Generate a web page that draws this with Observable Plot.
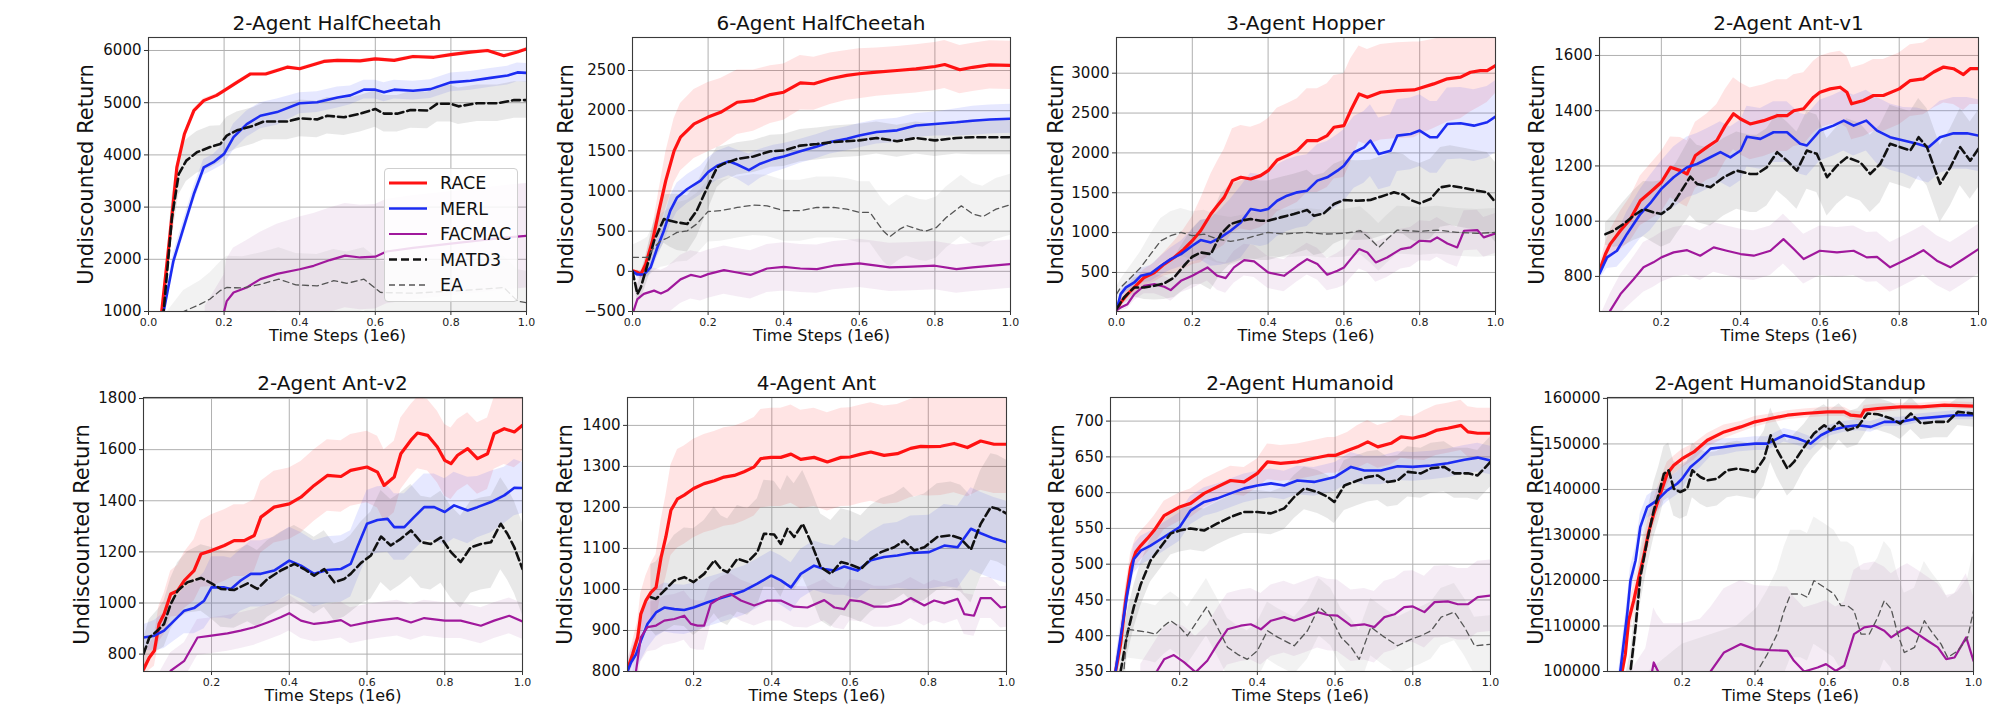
<!DOCTYPE html>
<html><head><meta charset="utf-8">
<script src="https://cdn.jsdelivr.net/npm/d3@7"></script>
<script src="https://cdn.jsdelivr.net/npm/@observablehq/plot@0.6"></script>
<style>
body{margin:0;background:#fff;font-family:"DejaVu Sans",sans-serif;}
#root{position:relative;width:2012px;height:709px;overflow:hidden;background:#fff;}
.panel{position:absolute;}
.title{position:absolute;font-size:20px;transform:translate(-50%,-50%);white-space:nowrap;color:#111;font-family:"DejaVu Sans",sans-serif;}
#legend{position:absolute;box-sizing:border-box;border:1px solid #cfcfcf;border-radius:4px;background:rgba(255,255,255,0.85);}
</style></head><body><div id="root"></div>
<script>
// ---------- data: [time steps (1e6), mean return, half-width of shaded band] ----------
const seriesNames = ["RACE", "MERL", "FACMAC", "MATD3", "EA"];

const hc2_RACE = [[0,0,20],[0.035,1000,30],[0.057,2480,60],[0.075,3760,60],[0.095,4400,50],[0.12,4850,40],[0.146,5040,40],[0.18,5140,30],[0.2,5230,30],[0.234,5390,30],[0.27,5550,30],[0.31,5550,30],[0.367,5680,30],[0.4,5650,30],[0.464,5790,30],[0.5,5810,30],[0.56,5800,30],[0.6,5840,30],[0.65,5810,30],[0.7,5885,30],[0.755,5870,30],[0.8,5920,30],[0.852,5970,30],[0.897,6000,30],[0.94,5900,30],[0.976,5970,30],[1.0,6030,30]];
const hc2_MERL = [[0,0,20],[0.04,1000,100],[0.066,1970,150],[0.093,2610,150],[0.12,3250,150],[0.146,3760,150],[0.172,3860,150],[0.2,4020,200],[0.225,4340,250],[0.26,4590,250],[0.296,4750,250],[0.34,4820,250],[0.4,4990,200],[0.446,5010,200],[0.5,5100,200],[0.534,5140,180],[0.57,5250,180],[0.6,5250,180],[0.623,5200,180],[0.65,5250,180],[0.7,5230,180],[0.746,5260,180],[0.8,5390,180],[0.852,5420,180],[0.905,5475,180],[0.95,5520,180],[0.976,5580,180],[1.0,5570,180]];
const hc2_FACMAC = [[0.15,600,500],[0.2,1000,700],[0.207,1200,800],[0.225,1365,850],[0.26,1460,900],[0.296,1620,900],[0.34,1720,950],[0.4,1810,1000],[0.437,1875,1000],[0.48,1985,1000],[0.52,2070,1000],[0.56,2035,1000],[0.6,2050,1000],[0.63,2150,1000],[0.7,2220,1000],[0.8,2300,1000],[0.9,2380,1000],[0.95,2420,1000],[1.0,2450,1000]];
const hc2_MATD3 = [[0,0,50],[0.04,1000,200],[0.062,2800,400],[0.08,3630,400],[0.1,3890,400],[0.128,4050,400],[0.163,4150,400],[0.19,4210,350],[0.207,4370,350],[0.234,4470,350],[0.278,4560,350],[0.305,4640,350],[0.367,4640,350],[0.4,4700,350],[0.446,4680,350],[0.473,4750,350],[0.517,4720,350],[0.56,4790,350],[0.6,4880,350],[0.623,4790,350],[0.658,4790,350],[0.693,4860,350],[0.738,4850,350],[0.764,4980,350],[0.8,4980,350],[0.82,4930,350],[0.87,4990,350],[0.923,4990,350],[0.967,5050,350],[1.0,5050,350]];
const hc2_EA = [[0.05,700,300],[0.093,1000,400],[0.137,1140,450],[0.163,1240,500],[0.19,1400,550],[0.207,1460,600],[0.25,1450,600],[0.296,1520,600],[0.345,1620,600],[0.39,1510,600],[0.446,1490,600],[0.49,1590,600],[0.525,1540,600],[0.57,1620,600],[0.614,1365,600],[0.7,1350,600],[0.826,1400,600],[0.94,1460,600],[0.976,1200,600],[1.0,1170,600]];

const hc6_RACE = [[0,7,20],[0.013,-13,30],[0.022,-40,40],[0.035,90,80],[0.053,380,150],[0.07,755,250],[0.088,1130,350],[0.11,1500,400],[0.127,1670,420],[0.163,1835,430],[0.2,1920,430],[0.233,1980,420],[0.277,2105,400],[0.32,2125,380],[0.365,2200,360],[0.4,2230,350],[0.444,2347,340],[0.48,2335,330],[0.523,2397,320],[0.567,2440,310],[0.6,2460,310],[0.646,2480,300],[0.7,2500,300],[0.75,2520,300],[0.8,2550,300],[0.826,2575,300],[0.866,2510,300],[0.9,2540,300],[0.945,2570,300],[1.0,2565,300]];
const hc6_MERL = [[0,0,20],[0.013,-40,40],[0.03,-40,60],[0.048,50,80],[0.066,300,120],[0.083,505,150],[0.1,755,180],[0.118,920,180],[0.145,1025,180],[0.18,1130,180],[0.2,1235,180],[0.224,1315,180],[0.255,1370,180],[0.277,1330,180],[0.308,1260,200],[0.338,1340,180],[0.373,1400,170],[0.4,1430,160],[0.444,1495,150],[0.488,1555,150],[0.523,1610,150],[0.567,1650,150],[0.6,1690,150],[0.646,1735,150],[0.7,1755,150],[0.75,1815,150],[0.8,1835,150],[0.857,1855,170],[0.9,1875,180],[0.945,1890,180],[1.0,1900,180]];
const hc6_FACMAC = [[0.003,-490,200],[0.013,-345,250],[0.03,-280,280],[0.057,-240,280],[0.075,-275,290],[0.092,-240,290],[0.127,-100,300],[0.154,-45,300],[0.18,-70,300],[0.2,-35,300],[0.242,15,300],[0.277,-15,300],[0.312,-45,300],[0.356,35,300],[0.4,55,300],[0.444,35,300],[0.488,28,300],[0.532,70,300],[0.6,100,300],[0.646,70,300],[0.68,50,300],[0.725,55,300],[0.8,70,300],[0.857,28,300],[0.9,50,300],[1.0,90,300]];
const hc6_MATD3 = [[0,0,50],[0.013,-283,100],[0.022,-200,150],[0.04,90,200],[0.057,380,250],[0.083,650,300],[0.1,630,330],[0.118,610,350],[0.145,590,350],[0.17,755,330],[0.198,1045,300],[0.224,1295,250],[0.242,1340,220],[0.277,1400,200],[0.32,1430,200],[0.365,1495,200],[0.4,1505,200],[0.444,1565,200],[0.488,1585,200],[0.532,1610,200],[0.6,1630,200],[0.646,1660,200],[0.7,1620,200],[0.75,1660,200],[0.8,1630,200],[0.857,1660,200],[0.9,1670,220],[1.0,1670,220]];
const hc6_EA = [[0,175,150],[0.022,175,200],[0.04,175,250],[0.057,300,300],[0.075,380,330],[0.092,415,350],[0.118,485,370],[0.145,505,380],[0.17,590,380],[0.2,745,380],[0.233,755,380],[0.277,795,380],[0.32,825,380],[0.356,815,380],[0.4,755,380],[0.444,755,380],[0.488,795,380],[0.532,795,380],[0.567,775,380],[0.6,735,380],[0.628,735,380],[0.663,505,380],[0.68,430,380],[0.707,525,380],[0.725,570,380],[0.76,515,380],[0.778,505,380],[0.804,545,380],[0.83,670,380],[0.87,815,380],[0.9,715,380],[0.927,680,380],[0.962,775,380],[1.0,830,380]];

const hop_RACE = [[0,27,20],[0.011,123,40],[0.029,228,60],[0.047,312,80],[0.073,437,100],[0.1,500,120],[0.126,605,150],[0.152,688,200],[0.178,793,250],[0.2,898,300],[0.222,1023,400],[0.249,1233,500],[0.266,1338,550],[0.284,1442,600],[0.306,1652,650],[0.328,1694,650],[0.354,1673,650],[0.38,1715,650],[0.4,1777,650],[0.424,1911,650],[0.45,1966,650],[0.477,2028,650],[0.503,2154,650],[0.53,2154,650],[0.556,2217,650],[0.574,2322,650],[0.6,2342,650],[0.618,2531,650],[0.64,2740,600],[0.662,2698,600],[0.697,2761,600],[0.741,2782,600],[0.785,2790,600],[0.8,2811,580],[0.837,2866,560],[0.873,2929,540],[0.908,2950,520],[0.934,3012,500],[0.96,3033,450],[0.978,3033,400],[1.0,3096,350]];
const hop_MERL = [[0,27,20],[0.011,228,40],[0.025,312,60],[0.047,374,80],[0.064,458,90],[0.09,487,100],[0.117,584,120],[0.143,667,140],[0.17,730,160],[0.2,835,200],[0.222,906,250],[0.249,877,300],[0.275,940,350],[0.301,1023,400],[0.328,1128,450],[0.354,1296,450],[0.38,1275,450],[0.4,1296,450],[0.424,1400,450],[0.45,1463,450],[0.477,1505,450],[0.503,1526,450],[0.53,1652,450],[0.556,1694,450],[0.583,1777,450],[0.6,1840,450],[0.627,2008,450],[0.653,2070,450],[0.67,2154,450],[0.692,1987,450],[0.723,2028,450],[0.741,2217,450],[0.776,2238,450],[0.8,2280,450],[0.828,2196,450],[0.846,2196,450],[0.873,2363,450],[0.908,2372,450],[0.943,2342,450],[0.978,2384,450],[1.0,2455,450]];
const hop_FACMAC = [[0,27,20],[0.011,60,40],[0.029,102,60],[0.047,228,80],[0.073,333,100],[0.1,353,120],[0.126,320,130],[0.143,278,140],[0.17,395,150],[0.2,458,160],[0.24,563,170],[0.266,458,180],[0.288,429,190],[0.31,563,200],[0.337,655,200],[0.363,638,200],[0.4,500,200],[0.442,458,200],[0.477,584,200],[0.503,667,200],[0.53,605,200],[0.556,471,200],[0.583,521,220],[0.6,563,230],[0.618,667,240],[0.64,793,250],[0.662,751,250],[0.684,626,250],[0.714,688,250],[0.75,793,250],[0.776,814,250],[0.8,898,250],[0.828,889,250],[0.846,940,250],[0.873,864,250],[0.899,814,250],[0.917,1023,250],[0.952,1032,250],[0.969,940,250],[1.0,990,250]];
const hop_MATD3 = [[0,40,30],[0.02,186,80],[0.047,312,120],[0.073,312,150],[0.1,333,180],[0.126,362,200],[0.152,437,250],[0.178,584,300],[0.2,697,350],[0.222,751,400],[0.249,730,450],[0.275,981,500],[0.301,1107,500],[0.328,1149,500],[0.354,1170,500],[0.38,1149,500],[0.4,1149,500],[0.433,1191,500],[0.468,1233,500],[0.503,1283,500],[0.521,1212,500],[0.547,1241,500],[0.574,1358,500],[0.6,1409,500],[0.635,1400,500],[0.67,1409,500],[0.697,1451,500],[0.732,1505,500],[0.758,1476,500],[0.776,1409,500],[0.8,1367,500],[0.828,1421,500],[0.855,1568,500],[0.881,1589,500],[0.917,1559,500],[0.952,1526,500],[0.978,1505,500],[1.0,1380,500]];
const hop_EA = [[0,228,80],[0.011,312,100],[0.038,437,150],[0.064,563,200],[0.09,730,250],[0.117,898,280],[0.143,961,300],[0.17,1003,300],[0.2,961,300],[0.231,981,300],[0.266,919,300],[0.301,889,300],[0.345,931,300],[0.4,1003,300],[0.442,981,300],[0.503,1003,300],[0.547,981,300],[0.6,990,300],[0.644,1023,300],[0.67,919,300],[0.692,814,300],[0.714,919,300],[0.741,1032,300],[0.8,1015,300],[0.846,1032,300],[0.899,1003,300],[0.952,990,300],[1.0,1003,300]];

const ant1_RACE = [[0.044,820,20],[0.059,881,40],[0.071,917,50],[0.097,966,70],[0.122,1008,80],[0.147,1074,90],[0.172,1105,100],[0.2,1141,110],[0.223,1195,110],[0.248,1183,120],[0.265,1171,120],[0.286,1238,120],[0.315,1268,120],[0.34,1292,130],[0.361,1346,130],[0.382,1389,130],[0.4,1370,130],[0.424,1352,130],[0.458,1364,130],[0.492,1382,130],[0.517,1382,130],[0.534,1400,130],[0.559,1407,130],[0.584,1449,130],[0.6,1467,130],[0.626,1479,130],[0.651,1485,130],[0.668,1467,130],[0.68,1425,130],[0.71,1437,130],[0.735,1455,130],[0.76,1455,130],[0.8,1479,130],[0.828,1509,130],[0.861,1515,130],[0.887,1540,130],[0.912,1558,130],[0.937,1552,130],[0.962,1531,130],[0.979,1552,130],[1.0,1552,130]];
const ant1_MERL = [[0.044,810,20],[0.063,869,40],[0.088,893,60],[0.113,953,80],[0.147,1026,90],[0.172,1065,100],[0.2,1117,100],[0.231,1159,110],[0.265,1195,110],[0.29,1207,110],[0.315,1225,110],[0.349,1250,110],[0.374,1231,110],[0.4,1256,110],[0.416,1306,110],[0.45,1298,110],[0.483,1322,110],[0.517,1322,110],[0.55,1280,110],[0.567,1274,110],[0.6,1328,110],[0.634,1346,110],[0.66,1364,110],[0.685,1346,110],[0.717,1364,110],[0.744,1328,120],[0.777,1304,120],[0.811,1292,120],[0.845,1280,130],[0.874,1268,130],[0.903,1304,130],[0.937,1318,130],[0.971,1318,130],[1.0,1310,130]];
const ant1_FACMAC = [[0.044,600,50],[0.071,676,60],[0.097,736,70],[0.13,790,80],[0.155,833,90],[0.18,851,90],[0.2,869,90],[0.231,887,90],[0.265,895,90],[0.298,875,90],[0.332,905,90],[0.365,893,90],[0.4,881,90],[0.433,875,90],[0.475,893,90],[0.508,935,90],[0.534,899,90],[0.559,863,90],[0.6,893,90],[0.643,887,90],[0.685,893,90],[0.718,869,90],[0.744,871,90],[0.777,833,90],[0.803,851,90],[0.836,875,90],[0.861,895,90],[0.895,857,90],[0.929,833,90],[0.962,863,90],[1.0,899,90]];
const ant1_MATD3 = [[0.059,953,40],[0.08,966,60],[0.105,990,80],[0.13,1020,90],[0.155,1044,100],[0.18,1032,110],[0.2,1026,120],[0.223,1050,130],[0.24,1086,130],[0.273,1161,140],[0.29,1135,140],[0.324,1123,140],[0.357,1159,140],[0.39,1183,140],[0.424,1171,140],[0.441,1171,140],[0.466,1195,140],[0.492,1250,140],[0.517,1219,140],[0.542,1183,140],[0.567,1256,140],[0.592,1244,140],[0.618,1159,140],[0.643,1201,140],[0.668,1231,140],[0.702,1213,140],[0.727,1171,140],[0.752,1207,140],[0.777,1280,140],[0.803,1268,140],[0.828,1256,140],[0.849,1304,140],[0.87,1268,140],[0.903,1135,140],[0.929,1195,140],[0.954,1268,140],[0.979,1219,140],[1.0,1262,140]];

const ant2_RACE = [[0.025,740,40],[0.04,787,50],[0.053,813,60],[0.065,918,70],[0.078,957,80],[0.095,1035,90],[0.113,1048,100],[0.13,1088,110],[0.155,1127,120],[0.173,1192,130],[0.2,1205,140],[0.233,1225,140],[0.258,1244,140],[0.284,1244,140],[0.31,1264,140],[0.327,1336,140],[0.361,1375,140],[0.4,1388,140],[0.43,1414,140],[0.464,1460,140],[0.498,1499,140],[0.533,1495,140],[0.558,1519,140],[0.6,1532,140],[0.627,1512,140],[0.644,1460,140],[0.67,1493,140],[0.687,1584,140],[0.713,1637,140],[0.73,1665,140],[0.756,1656,140],[0.781,1610,140],[0.8,1558,140],[0.816,1545,140],[0.833,1578,140],[0.859,1604,140],[0.884,1565,140],[0.91,1584,140],[0.927,1663,140],[0.953,1682,140],[0.979,1669,140],[1.0,1695,140]];
const ant2_MERL = [[0.025,865,50],[0.053,872,60],[0.078,892,70],[0.104,931,80],[0.13,970,90],[0.155,980,100],[0.181,1009,110],[0.2,1061,120],[0.233,1061,120],[0.25,1055,120],[0.275,1088,120],[0.301,1114,130],[0.327,1114,130],[0.361,1127,130],[0.4,1166,130],[0.43,1146,130],[0.464,1114,130],[0.498,1129,130],[0.533,1133,130],[0.558,1153,130],[0.575,1218,130],[0.6,1310,130],[0.627,1325,130],[0.653,1329,130],[0.67,1297,130],[0.696,1297,130],[0.721,1336,130],[0.747,1375,130],[0.773,1375,130],[0.8,1356,130],[0.824,1382,130],[0.859,1362,130],[0.884,1375,120],[0.919,1395,120],[0.953,1421,110],[0.979,1451,110],[1.0,1450,100]];
const ant2_FACMAC = [[0.06,650,60],[0.095,735,70],[0.13,774,70],[0.164,865,70],[0.2,872,70],[0.241,881,70],[0.275,892,70],[0.31,905,70],[0.344,924,70],[0.378,944,70],[0.4,960,70],[0.43,931,70],[0.464,918,70],[0.498,924,70],[0.533,933,70],[0.558,911,70],[0.6,924,70],[0.636,933,70],[0.678,941,70],[0.713,924,70],[0.747,941,70],[0.8,931,70],[0.841,931,70],[0.893,911,70],[0.927,931,70],[0.966,950,70],[1.0,928,70]];
const ant2_MATD3 = [[0.025,800,60],[0.04,865,70],[0.061,892,80],[0.078,918,90],[0.095,996,100],[0.113,1048,110],[0.138,1081,120],[0.173,1098,130],[0.2,1077,140],[0.224,1055,150],[0.258,1051,150],[0.293,1077,150],[0.318,1055,150],[0.344,1094,150],[0.378,1127,150],[0.413,1153,150],[0.438,1133,150],[0.464,1107,150],[0.49,1133,150],[0.516,1081,150],[0.541,1094,150],[0.558,1114,150],[0.584,1156,160],[0.61,1186,170],[0.636,1260,180],[0.661,1225,180],[0.687,1251,180],[0.713,1284,180],[0.739,1238,180],[0.764,1231,180],[0.79,1257,180],[0.816,1199,180],[0.841,1160,180],[0.867,1218,180],[0.893,1231,180],[0.919,1238,180],[0.944,1310,180],[0.961,1271,180],[0.979,1218,180],[1.0,1133,180]];

const ant4_RACE = [[0.031,805,20],[0.044,842,30],[0.057,883,40],[0.065,940,50],[0.078,973,60],[0.091,993,70],[0.104,1005,80],[0.117,1079,90],[0.129,1128,100],[0.142,1193,110],[0.159,1221,120],[0.176,1230,120],[0.2,1246,120],[0.227,1258,120],[0.253,1265,120],[0.278,1274,120],[0.304,1278,120],[0.329,1287,120],[0.355,1299,120],[0.372,1319,120],[0.398,1322,120],[0.423,1322,120],[0.449,1330,120],[0.474,1317,120],[0.508,1322,120],[0.542,1311,120],[0.577,1322,120],[0.6,1323,120],[0.628,1330,120],[0.653,1335,120],[0.687,1327,120],[0.721,1331,120],[0.755,1344,120],[0.781,1349,120],[0.802,1348,120],[0.832,1349,120],[0.866,1356,120],[0.9,1346,120],[0.934,1362,120],[0.968,1354,120],[1.0,1354,120]];
const ant4_MERL = [[0.031,800,20],[0.04,822,30],[0.053,842,40],[0.065,875,50],[0.082,916,60],[0.104,944,60],[0.125,956,60],[0.151,952,60],[0.176,950,60],[0.2,956,60],[0.236,969,60],[0.27,979,60],[0.304,989,60],[0.329,997,60],[0.363,1014,60],[0.398,1034,60],[0.423,1022,60],[0.449,1005,60],[0.474,1038,60],[0.508,1058,60],[0.534,1050,60],[0.56,1046,60],[0.585,1056,70],[0.619,1046,70],[0.653,1071,70],[0.687,1079,80],[0.721,1083,80],[0.755,1089,90],[0.802,1091,90],[0.841,1107,100],[0.875,1103,100],[0.909,1148,100],[0.934,1137,100],[0.968,1124,100],[1.0,1115,100]];
const ant4_FACMAC = [[0.045,750,50],[0.053,802,60],[0.065,883,60],[0.082,908,60],[0.104,912,60],[0.125,924,60],[0.151,928,60],[0.176,936,60],[0.193,916,60],[0.21,912,60],[0.227,912,60],[0.244,965,50],[0.27,981,50],[0.295,989,50],[0.321,973,50],[0.355,961,50],[0.389,973,50],[0.423,973,50],[0.457,958,50],[0.491,956,50],[0.534,974,50],[0.56,956,50],[0.585,952,50],[0.6,974,50],[0.628,971,50],[0.662,958,50],[0.696,958,50],[0.73,965,50],[0.755,979,50],[0.79,961,50],[0.815,973,50],[0.841,966,50],[0.875,977,50],[0.892,940,50],[0.917,936,50],[0.934,979,50],[0.96,979,50],[0.985,956,50],[1.0,958,50]];
const ant4_MATD3 = [[0.091,981,80],[0.104,977,90],[0.125,997,100],[0.151,1022,110],[0.176,1030,120],[0.2,1018,130],[0.227,1038,130],[0.253,1071,130],[0.27,1050,130],[0.287,1042,130],[0.312,1075,130],[0.338,1067,130],[0.363,1091,130],[0.38,1136,130],[0.406,1134,130],[0.423,1111,130],[0.44,1148,130],[0.457,1128,130],[0.479,1160,130],[0.5,1115,130],[0.525,1054,130],[0.551,1038,130],[0.577,1067,130],[0.6,1061,130],[0.628,1050,130],[0.653,1075,130],[0.679,1091,130],[0.713,1103,130],[0.738,1119,130],[0.764,1095,130],[0.79,1103,130],[0.823,1128,130],[0.858,1132,130],[0.883,1124,130],[0.909,1097,130],[0.934,1160,130],[0.96,1201,130],[0.977,1197,130],[1.0,1185,130]];

const hum_RACE = [[0.022,300,10],[0.035,350,15],[0.048,388,20],[0.061,449,20],[0.074,496,20],[0.087,517,20],[0.1,526,20],[0.117,536,20],[0.134,547,20],[0.16,568,20],[0.2,580,20],[0.228,585,20],[0.263,599,20],[0.297,608,20],[0.331,617,20],[0.366,615,20],[0.4,627,20],[0.426,643,25],[0.46,641,25],[0.503,643,25],[0.546,648,25],[0.581,652,25],[0.6,652,25],[0.632,659,25],[0.658,664,30],[0.684,671,30],[0.71,664,30],[0.744,669,30],[0.77,678,30],[0.8,676,30],[0.83,680,35],[0.86,687,35],[0.89,690,35],[0.924,694,35],[0.942,685,35],[0.967,683,35],[1.0,683,35]];
const hum_MERL = [[0.022,300,10],[0.035,350,15],[0.048,398,20],[0.065,458,20],[0.082,507,20],[0.1,519,20],[0.125,526,20],[0.16,538,20],[0.2,552,20],[0.228,575,20],[0.263,587,20],[0.297,592,20],[0.331,599,20],[0.366,606,20],[0.4,610,20],[0.435,613,20],[0.469,610,20],[0.503,617,20],[0.546,615,20],[0.6,622,20],[0.641,636,20],[0.675,631,20],[0.718,631,20],[0.761,637,20],[0.8,636,20],[0.847,638,20],[0.89,641,20],[0.933,646,20],[0.967,649,20],[1.0,645,20]];
const hum_FACMAC = [[0.1,320,40],[0.142,351,45],[0.16,367,45],[0.185,373,45],[0.211,363,50],[0.241,349,50],[0.271,365,50],[0.297,388,50],[0.323,409,50],[0.357,414,50],[0.383,416,50],[0.409,409,50],[0.435,421,50],[0.469,426,50],[0.495,421,50],[0.521,426,50],[0.555,433,50],[0.581,429,50],[0.606,428,50],[0.641,414,50],[0.675,416,50],[0.701,412,50],[0.727,426,50],[0.753,430,50],[0.778,440,50],[0.8,441,50],[0.83,433,50],[0.856,447,50],[0.89,448,50],[0.916,444,50],[0.942,444,50],[0.967,454,50],[1.0,456,50]];
const hum_MATD3 = [[0.022,250,20],[0.048,350,30],[0.065,402,30],[0.082,440,30],[0.1,472,30],[0.125,505,30],[0.151,524,30],[0.177,543,30],[0.2,547,30],[0.228,550,30],[0.263,547,30],[0.297,557,30],[0.331,566,30],[0.366,573,30],[0.4,573,30],[0.435,571,30],[0.469,578,30],[0.495,594,30],[0.521,606,30],[0.555,601,30],[0.581,594,30],[0.598,587,30],[0.624,610,35],[0.658,617,35],[0.684,622,35],[0.71,624,35],[0.735,615,35],[0.761,617,35],[0.787,629,35],[0.821,627,35],[0.847,634,35],[0.881,636,35],[0.907,627,35],[0.942,627,35],[0.967,624,35],[1.0,643,35]];
const hum_EA = [[0.055,340,40],[0.065,409,40],[0.091,407,40],[0.117,405,40],[0.138,402,40],[0.16,414,40],[0.177,421,40],[0.2,412,40],[0.22,400,40],[0.246,421,40],[0.269,440,40],[0.297,412,40],[0.323,384,40],[0.349,374,40],[0.374,367,40],[0.4,379,40],[0.426,407,40],[0.452,398,40],[0.495,386,40],[0.529,407,40],[0.559,440,40],[0.589,426,40],[0.615,398,40],[0.641,384,40],[0.662,367,40],[0.692,412,40],[0.727,398,40],[0.761,386,40],[0.795,395,40],[0.821,400,40],[0.847,407,40],[0.873,426,40],[0.907,433,40],[0.933,412,40],[0.959,386,40],[1.0,388,40]];

const hsu_RACE = [[0,80000,2000],[0.035,100000,3000],[0.044,103800,3000],[0.053,111160,3500],[0.067,115570,3500],[0.081,120700,3500],[0.094,125110,3500],[0.108,130620,3500],[0.122,134650,3000],[0.14,139060,3000],[0.159,143460,2500],[0.177,145300,2000],[0.2,146770,2000],[0.232,148240,1800],[0.269,150810,1500],[0.315,152640,1500],[0.361,153740,1200],[0.4,154850,1200],[0.443,155580,1000],[0.489,156310,1000],[0.535,156680,1000],[0.599,157050,1000],[0.645,157050,1000],[0.663,156310,1000],[0.691,156090,1000],[0.7,157420,1000],[0.737,157780,1000],[0.799,158150,800],[0.856,158150,800],[0.92,158520,800],[1.0,158300,800]];
const hsu_MERL = [[0,80000,2000],[0.03,100000,3000],[0.039,106020,3000],[0.049,112630,3000],[0.058,119970,3000],[0.072,124380,3000],[0.085,131720,3000],[0.104,136120,2500],[0.131,137590,2500],[0.159,139790,2500],[0.186,141260,2500],[0.2,142360,2500],[0.223,144930,2000],[0.25,146770,2000],[0.278,148970,1800],[0.315,149340,1800],[0.351,149710,1500],[0.4,150070,1500],[0.434,150070,1500],[0.48,151910,1500],[0.517,151180,1500],[0.553,150070,1500],[0.581,151910,1500],[0.608,153010,1200],[0.645,153740,1200],[0.682,154110,1200],[0.718,153740,1200],[0.755,154850,1000],[0.799,154850,1000],[0.847,155580,1000],[0.902,155950,1000],[0.948,156310,1000],[1.0,156310,1000]];
const hsu_FACMAC = [[0,85000,8000],[0.1,95000,10000],[0.115,99000,12000],[0.122,101980,12000],[0.131,100510,12000],[0.15,97500,13000],[0.2,96500,14000],[0.25,97500,14000],[0.278,100000,14000],[0.315,104180,14000],[0.361,106020,14000],[0.4,104920,14000],[0.443,104700,14000],[0.489,104550,14000],[0.507,102350,14000],[0.535,100000,14000],[0.572,100880,14000],[0.595,101620,14000],[0.622,100150,14000],[0.645,101250,14000],[0.672,108220,14000],[0.7,109690,14000],[0.728,110060,14000],[0.755,108960,14000],[0.774,107490,14000],[0.801,108960,14000],[0.819,109690,14000],[0.847,108220,14000],[0.874,106750,14000],[0.902,105290,14000],[0.925,102720,14000],[0.948,103080,14000],[0.98,107490,14000],[1.0,102350,14000]];
const hsu_MATD3 = [[0,80000,3000],[0.058,100000,4000],[0.072,109690,5000],[0.085,120700,6000],[0.104,128780,6000],[0.122,135390,6000],[0.136,139060,6000],[0.15,143460,6000],[0.163,144200,6000],[0.177,140160,6000],[0.195,139430,6000],[0.214,140160,6000],[0.228,144200,6000],[0.25,142730,6000],[0.269,142000,6000],[0.296,142360,6000],[0.324,144200,6000],[0.351,144570,6000],[0.379,144200,6000],[0.4,143830,6000],[0.425,146770,6000],[0.443,151910,6000],[0.461,148610,6000],[0.489,144570,6000],[0.507,146040,6000],[0.535,149340,5000],[0.562,152280,5000],[0.59,154110,4500],[0.608,153010,4500],[0.631,154850,4000],[0.654,153010,4000],[0.682,153740,4000],[0.709,156680,3500],[0.737,156530,3500],[0.774,155580,3500],[0.799,154480,3500],[0.828,156680,3500],[0.856,154480,3500],[0.893,154850,3500],[0.929,154850,3500],[0.957,157050,3000],[1.0,156680,3000]];
const hsu_EA = [[0,85000,8000],[0.2,92000,14000],[0.35,96000,14000],[0.406,100000,14000],[0.434,103820,14000],[0.461,108220,14000],[0.48,113360,14000],[0.498,117030,14000],[0.526,117030,14000],[0.544,116300,14000],[0.562,119970,14000],[0.59,118500,14000],[0.617,117030,14000],[0.636,114460,14000],[0.654,114460,14000],[0.672,113360,14000],[0.691,108220,14000],[0.714,108220,14000],[0.737,111890,13000],[0.755,115560,13000],[0.774,113730,13000],[0.792,108220,13000],[0.81,104180,13000],[0.838,105290,13000],[0.865,111160,13000],[0.883,108960,13000],[0.911,106020,13000],[0.929,103080,13000],[0.957,104550,13000],[0.984,107490,13000],[1.0,113360,13000]];

// tick values
const xTicksFull = [0, 0.2, 0.4, 0.6, 0.8, 1.0];
const xTicksPart = [0.2, 0.4, 0.6, 0.8, 1.0];
const yTicks_hc2 = [1000, 2000, 3000, 4000, 5000, 6000];
const yTicks_hc6 = [-500, 0, 500, 1000, 1500, 2000, 2500];
const yTicks_hop = [500, 1000, 1500, 2000, 2500, 3000];
const yTicks_ant1 = [800, 1000, 1200, 1400, 1600];
const yTicks_ant2 = [800, 1000, 1200, 1400, 1600, 1800];
const yTicks_ant4 = [800, 900, 1000, 1100, 1200, 1300, 1400];
const yTicks_hum = [350, 400, 450, 500, 550, 600, 650, 700];
const yTicks_hsu = [100000, 110000, 120000, 130000, 140000, 150000, 160000];

// ---------- styles ----------
const style = {
  RACE:   {stroke: "#ff1212", width: 3.2, dash: null,  fill: "#ff3030", fo: 0.13},
  MERL:   {stroke: "#1c2cf2", width: 2.6, dash: null,  fill: "#3a4cff", fo: 0.13},
  FACMAC: {stroke: "#a0189c", width: 2.2, dash: null,  fill: "#a048a0", fo: 0.10},
  MATD3:  {stroke: "#111111", width: 2.6, dash: "8,4", fill: "#707070", fo: 0.16},
  EA:     {stroke: "#555555", width: 1.3, dash: "6,4", fill: "#909090", fo: 0.12}
};

const panels = [
  {title: "2-Agent HalfCheetah", L: 148, R: 526, T: 37, B: 311, xd: [0, 1], yd: [1000, 6249], xt: xTicksFull, yt: yTicks_hc2, yl: 62,
   s: {RACE: hc2_RACE, MERL: hc2_MERL, FACMAC: hc2_FACMAC, MATD3: hc2_MATD3, EA: hc2_EA}},
  {title: "6-Agent HalfCheetah", L: 632, R: 1010, T: 37, B: 311, xd: [0, 1], yd: [-500, 2911], xt: xTicksFull, yt: yTicks_hc6, yl: 66,
   s: {RACE: hc6_RACE, MERL: hc6_MERL, FACMAC: hc6_FACMAC, MATD3: hc6_MATD3, EA: hc6_EA}},
  {title: "3-Agent Hopper", L: 1116, R: 1495, T: 37, B: 311, xd: [0, 1], yd: [10, 3448], xt: xTicksFull, yt: yTicks_hop, yl: 60,
   s: {RACE: hop_RACE, MERL: hop_MERL, FACMAC: hop_FACMAC, MATD3: hop_MATD3, EA: hop_EA}},
  {title: "2-Agent Ant-v1", L: 1599, R: 1978, T: 37, B: 311, xd: [0.044, 1], yd: [673, 1665], xt: xTicksPart, yt: yTicks_ant1, yl: 62,
   s: {RACE: ant1_RACE, MERL: ant1_MERL, FACMAC: ant1_FACMAC, MATD3: ant1_MATD3}},
  {title: "2-Agent Ant-v2", L: 143, R: 522, T: 397, B: 671, xd: [0.025, 1], yd: [732, 1804], xt: xTicksPart, yt: yTicks_ant2, yl: 61,
   s: {RACE: ant2_RACE, MERL: ant2_MERL, FACMAC: ant2_FACMAC, MATD3: ant2_MATD3}},
  {title: "4-Agent Ant", L: 627, R: 1006, T: 397, B: 671, xd: [0.031, 1], yd: [800, 1468], xt: xTicksPart, yt: yTicks_ant4, yl: 62,
   s: {RACE: ant4_RACE, MERL: ant4_MERL, FACMAC: ant4_FACMAC, MATD3: ant4_MATD3}},
  {title: "2-Agent Humanoid", L: 1110, R: 1490, T: 397, B: 671, xd: [0.022, 1], yd: [350, 733], xt: xTicksPart, yt: yTicks_hum, yl: 53,
   s: {RACE: hum_RACE, MERL: hum_MERL, FACMAC: hum_FACMAC, MATD3: hum_MATD3, EA: hum_EA}},
  {title: "2-Agent HumanoidStandup", L: 1607, R: 1973, T: 397, B: 671, xd: [-0.005, 1], yd: [100000, 160200], xt: xTicksPart, yt: yTicks_hsu, yl: 71,
   s: {RACE: hsu_RACE, MERL: hsu_MERL, FACMAC: hsu_FACMAC, MATD3: hsu_MATD3, EA: hsu_EA}}
];

const root = document.getElementById("root");
const ml = 110, mr = 14, mt = 12, mb = 50;
const toObj = a => a.map(([x, y, h]) => ({x, y, lo: y - h, hi: y + h}));
const fx = d3.format(".1f"), fy = d3.format("d");

for (const p of panels) {
  const W = p.R - p.L + ml + mr, H = p.B - p.T + mt + mb;
  const names = seriesNames.filter(n => p.s[n]);
  const marks = [
    Plot.ruleX(p.xt, {stroke: "#b0b0b0", strokeWidth: 1}),
    Plot.ruleY(p.yt, {stroke: "#b0b0b0", strokeWidth: 1})
  ];
  for (const n of names) {
    marks.push(Plot.areaY(toObj(p.s[n]), {x: "x", y1: "lo", y2: "hi", fill: style[n].fill, fillOpacity: style[n].fo, clip: true}));
  }
  for (const n of names) {
    const st = style[n];
    const o = {x: "x", y: "y", stroke: st.stroke, strokeWidth: st.width, clip: true, strokeLinejoin: "round"};
    if (st.dash) o.strokeDasharray = st.dash;
    marks.push(Plot.lineY(toObj(p.s[n]), o));
  }
  marks.push(
    Plot.axisX(p.xt, {fill: "none", tickSize: 4, label: null, stroke: "#333"}),
    Plot.axisY(p.yt, {fill: "none", tickSize: 4, label: null, stroke: "#333"}),
    Plot.text(p.xt, {x: d => d, frameAnchor: "bottom", lineAnchor: "middle", dy: 10.5, text: d => fx(d), fontSize: 11, fill: "#222"}),
    Plot.text(p.yt, {y: d => d, frameAnchor: "left", textAnchor: "end", dx: -7, text: d => fy(d), fontSize: 15, fill: "#111"}),
    Plot.frame({stroke: "#3a3a3a", strokeWidth: 1.1}),
    Plot.text(["Time Steps (1e6)"], {frameAnchor: "bottom", dy: 29.5, fontSize: 16, fill: "#111"}),
    Plot.text(["Undiscounted Return"], {frameAnchor: "left", rotate: -90, textAnchor: "middle", dx: -p.yl, fontSize: 21, fill: "#111"})
  );
  const svg = Plot.plot({
    width: W, height: H,
    marginLeft: ml, marginRight: mr, marginTop: mt, marginBottom: mb,
    x: {domain: p.xd, axis: null},
    y: {domain: p.yd, axis: null},
    style: {background: "transparent", overflow: "visible", fontFamily: "DejaVu Sans, sans-serif", color: "#111"},
    marks
  });
  svg.classList.add("panel");
  svg.style.left = (p.L - ml) + "px";
  svg.style.top = (p.T - mt) + "px";
  svg.style.maxWidth = "none";
  root.appendChild(svg);

  const t = document.createElement("div");
  t.className = "title";
  t.textContent = p.title;
  t.style.left = ((p.L + p.R) / 2) + "px";
  t.style.top = (p.T - 14) + "px";
  root.appendChild(t);
}

// legend (inside first panel)
const lg = document.createElement("div");
lg.id = "legend";
lg.style.left = "384px"; lg.style.top = "168px"; lg.style.width = "134px"; lg.style.height = "134px";
const ns = "http://www.w3.org/2000/svg";
const lsvg = document.createElementNS(ns, "svg");
lsvg.setAttribute("width", 132); lsvg.setAttribute("height", 132);
lsvg.style.position = "absolute"; lsvg.style.left = "0px"; lsvg.style.top = "0px";
seriesNames.forEach((n, i) => {
  const yy = 14 + i * 25.5;
  const ln = document.createElementNS(ns, "line");
  ln.setAttribute("x1", 4); ln.setAttribute("x2", 42);
  ln.setAttribute("y1", yy); ln.setAttribute("y2", yy);
  ln.setAttribute("stroke", style[n].stroke);
  ln.setAttribute("stroke-width", style[n].width);
  if (style[n].dash) ln.setAttribute("stroke-dasharray", style[n].dash);
  lsvg.appendChild(ln);
  const tx = document.createElementNS(ns, "text");
  tx.setAttribute("x", 55); tx.setAttribute("y", yy);
  tx.setAttribute("dominant-baseline", "central");
  tx.setAttribute("font-size", 17.5);
  tx.setAttribute("font-family", "DejaVu Sans, sans-serif");
  tx.setAttribute("fill", "#111");
  tx.textContent = n;
  lsvg.appendChild(tx);
});
lg.appendChild(lsvg);
root.appendChild(lg);
</script></body></html>
